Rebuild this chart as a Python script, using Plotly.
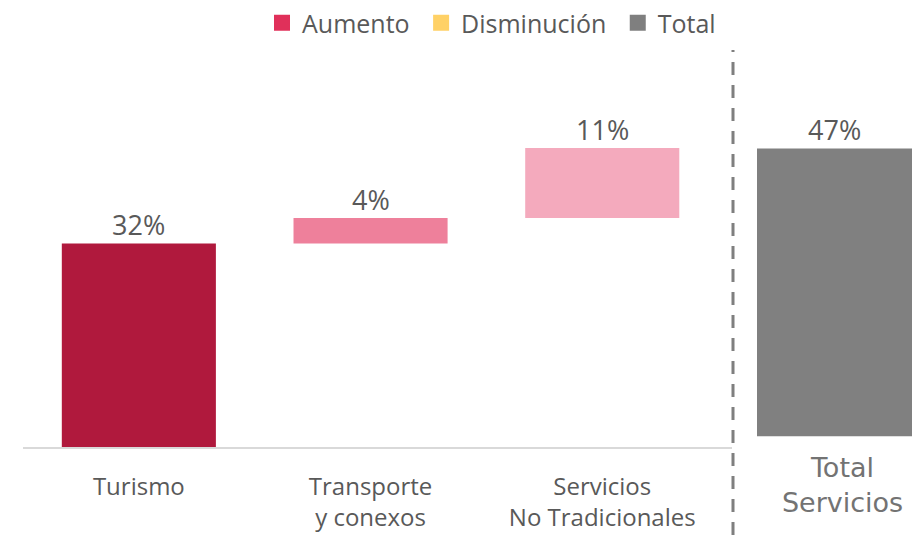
import plotly.graph_objects as go

# ---- data ----
categories = ["Turismo", "Transporte<br>y conexos", "Servicios<br>No Tradicionales"]
values = [32, 4, 11]
bar_colors = ["#B0193D", "#EE809B", "#F4AABD"]

total_category = ["Total<br>Servicios"]
total_values = [47]
total_color = "#808080"

legend_names = ["Aumento", "Disminución", "Total"]
legend_colors = ["#E0305A", "#FFD166", "#7F7F7F"]

# cumulative bases for the waterfall steps
bases = []
acc = 0
for v in values:
    bases.append(acc)
    acc += v

W, H = 912, 535
FONT = "Open Sans"
TXT = "#595959"

fig = go.Figure()

fig.add_trace(go.Bar(
    x=categories, y=values, base=bases,
    marker=dict(color=bar_colors, line=dict(width=0)),
    width=0.665,
    showlegend=False,
    hoverinfo="skip",
    xaxis="x", yaxis="y",
))

fig.add_trace(go.Bar(
    x=total_category, y=total_values,
    marker=dict(color=total_color, line=dict(width=0)),
    width=1.0,
    showlegend=False,
    hoverinfo="skip",
    xaxis="x2", yaxis="y2",
))

for i, (name, col) in enumerate(zip(legend_names, legend_colors)):
    label = name + ("\u00a0" if i < len(legend_names) - 1 else "")
    fig.add_trace(go.Scatter(
        x=[None], y=[None], mode="markers", name=label,
        marker=dict(symbol="square", size=19, color=col),
        xaxis="x", yaxis="y",
    ))

annotations = []
for c, b, v in zip(categories, bases, values):
    annotations.append(dict(
        x=c, y=b + v, xref="x", yref="y", text=f"{v}%",
        showarrow=False, yanchor="bottom", yshift=-2,
        font=dict(family=FONT, size=27, color=TXT),
    ))
for c, v in zip(total_category, total_values):
    annotations.append(dict(
        x=c, y=v, xref="x2", yref="y2", text=f"{v}%",
        showarrow=False, yanchor="bottom", yshift=-2,
        font=dict(family=FONT, size=27, color=TXT),
    ))

# main axes: 0 at y=447 px, 6.36 px per unit
y0_main = (H - 447) / H
y1_main = (H - 447 + 50 * 6.36) / H
# total axes: 0 at y=436.5 px, 6.128 px per unit
y0_tot = (H - 436.5) / H
y1_tot = (H - 436.5 + 50 * 6.128) / H

fig.update_layout(
    width=W, height=H,
    margin=dict(l=0, r=0, t=0, b=0),
    paper_bgcolor="white", plot_bgcolor="white",
    font=dict(family=FONT, color=TXT),
    barmode="overlay",
    xaxis=dict(
        domain=[23 / W, 732 / W], range=[-0.5, 2.56],
        showline=True, linecolor="#D9D9D9", linewidth=2,
        showgrid=False, zeroline=False, ticks="",
        tickfont=dict(family=FONT, size=24, color=TXT),
        ticklabelstandoff=17,
        anchor="y",
    ),
    yaxis=dict(
        domain=[y0_main, y1_main], range=[0, 50],
        visible=False, showgrid=False, zeroline=False,
        anchor="x",
    ),
    xaxis2=dict(
        domain=[757 / W, 1.0], range=[-0.5, 0.5],
        showline=False, showgrid=False, zeroline=False, ticks="",
        tickfont=dict(family="DejaVu Sans", size=27, color="#737373"),
        ticklabelstandoff=12, ticklabelshift=8,
        anchor="y2",
    ),
    yaxis2=dict(
        domain=[y0_tot, y1_tot], range=[0, 50],
        visible=False, showgrid=False, zeroline=False,
        anchor="x2",
    ),
    legend=dict(
        orientation="h", x=262 / W, xanchor="left", y=1.0, yanchor="top",
        font=dict(family=FONT, size=25, color=TXT),
        bgcolor="rgba(0,0,0,0)", itemclick=False, itemdoubleclick=False,
    ),
    annotations=annotations,
    shapes=[dict(
        type="line", xref="paper", yref="paper",
        x0=733 / W, x1=733 / W, y0=0, y1=(H - 50) / H,
        line=dict(color="#7F7F7F", width=3, dash="13px,10px"),
    )],
)

fig.write_html(
    "out.html",
    config={"displayModeBar": False},
    post_script="document.body.style.margin='0';document.body.style.overflow='hidden';",
)
